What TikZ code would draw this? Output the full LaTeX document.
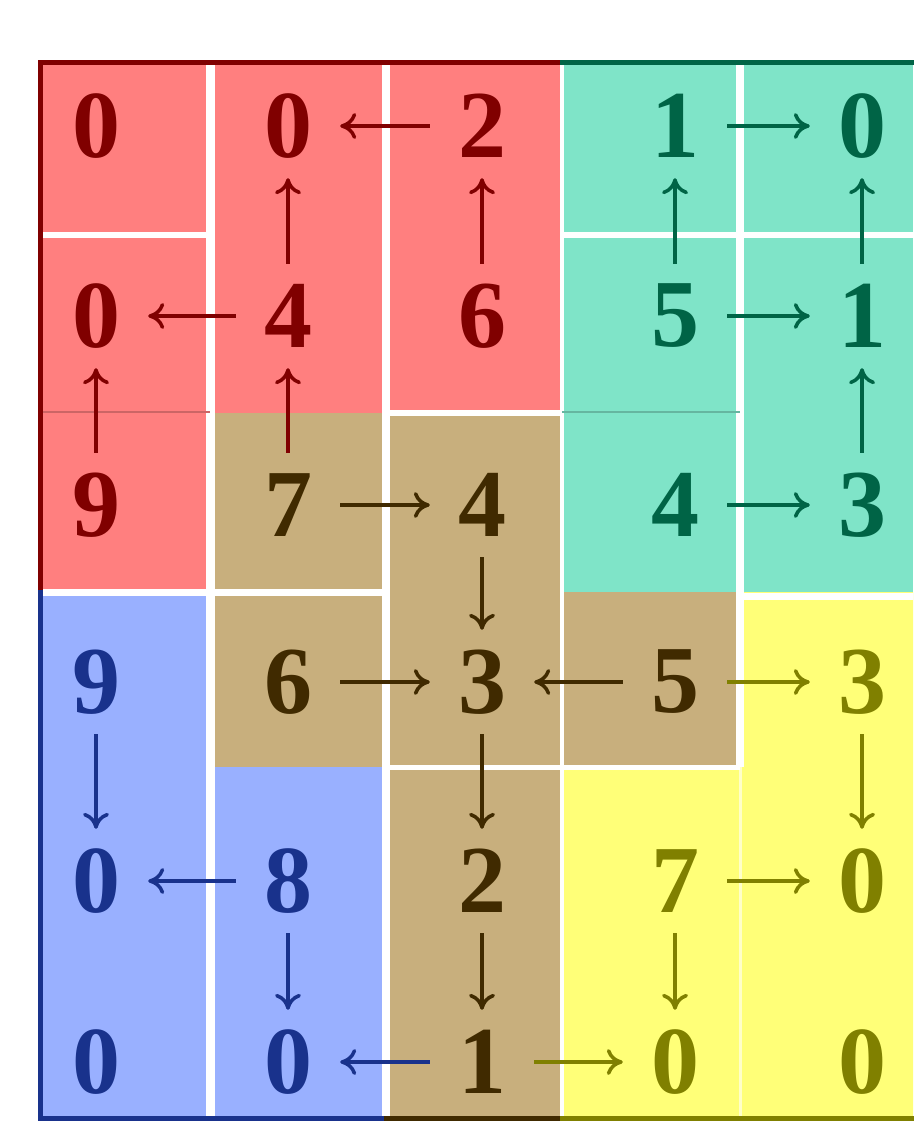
\documentclass[tikz,border=0pt]{standalone}
\usepackage{fontspec}
\setmainfont{Liberation Serif}
\usepackage{xcolor}
\usepackage{tikz}
\usetikzlibrary{arrows.meta}

\definecolor{redfill}{RGB}{255,127,127}
\definecolor{redtext}{RGB}{128,0,0}
\definecolor{tealfill}{RGB}{127,228,200}
\definecolor{tealtext}{RGB}{0,100,70}
\definecolor{tanfill}{RGB}{200,175,125}
\definecolor{tantext}{RGB}{64,42,0}
\definecolor{bluefill}{RGB}{153,176,255}
\definecolor{bluetext}{RGB}{25,50,140}
\definecolor{yellowfill}{RGB}{255,255,120}
\definecolor{olivetext}{RGB}{128,128,0}

\begin{document}
\begin{tikzpicture}[
  x=1pt, y=-1pt,
  num/.style={inner sep=0pt, minimum size=104pt,
             font=\fontsize{96}{100}\selectfont\bfseries},
  rednum/.style={num, text=redtext},
  tealnum/.style={num, text=tealtext},
  tannum/.style={num, text=tantext},
  bluenum/.style={num, text=bluetext},
  olivenum/.style={num, text=olivetext},
  gap/.style={draw=white, line width=8pt},
  border/.style={line width=5pt, line cap=rect},
  arrow/.style={-{To[length=16pt, width=26pt]}, line width=3.5pt}
]

\useasboundingbox[fill=white] (0,0) rectangle (913,1131);

% regions
\fill[redfill] (40,63) -- (562,63) -- (562,413) -- (210,413) -- (210,592) -- (40,592) -- cycle;
\fill[tealfill] (562,63) rectangle (913,592);
\fill[tanfill] (210,413) -- (562,413) -- (562,592) -- (740,592) -- (740,767)
  -- (562,767) -- (562,1118) -- (386,1118) -- (386,767) -- (210,767) -- cycle;
\fill[bluefill] (40,592) -- (210,592) -- (210,767) -- (386,767) -- (386,1118) -- (40,1118) -- cycle;
\fill[yellowfill] (740,592) -- (913,592) -- (913,1118) -- (562,1118) -- (562,767) -- (740,767) -- cycle;

% white gaps between cells
\draw[gap, line width=9pt] (210,63) -- (210,1118);
\draw[gap] (386,63) -- (386,1118);
\draw[gap, line width=4pt] (562,63) -- (562,1118);
\draw[gap] (740,63) -- (740,767);
\draw[white!60!yellowfill, line width=3pt] (740,767) -- (740,1118);
\draw[gap, line width=6pt] (40,235) -- (210,235);
\draw[gap, line width=6pt] (562,235) -- (913,235);
\draw[gap, line width=6pt] (386,413) -- (562,413);
\draw[gap, line width=7pt] (40,592) -- (386,592);
\draw[gap, line width=7pt] (740,596) -- (913,596);
\draw[gap, line width=5pt] (386,767) -- (740,767);
\draw[redfill!80!black, line width=2pt] (40,412) -- (210,412);
\draw[tealfill!80!black, line width=2pt] (562,412) -- (740,412);

% outer border
\draw[border, redtext] (40,592) -- (40,63) -- (562,63);
\draw[border, tealtext] (562,63) -- (913,63);
\draw[border, bluetext] (40,592) -- (40,1118) -- (386,1118);
\draw[border, tantext] (386,1118) -- (562,1118);
\draw[border, olivetext] (562,1118) -- (913,1118);

% heights
\node[rednum] (n11) at (96,126) {0};
\node[rednum] (n12) at (288,126) {0};
\node[rednum] (n13) at (482,126) {2};
\node[tealnum] (n14) at (675,126) {1};
\node[tealnum] (n15) at (862,126) {0};
\node[rednum] (n21) at (96,316) {0};
\node[rednum] (n22) at (288,316) {4};
\node[rednum] (n23) at (482,316) {6};
\node[tealnum] (n24) at (675,316) {5};
\node[tealnum] (n25) at (862,316) {1};
\node[rednum] (n31) at (96,505) {9};
\node[tannum] (n32) at (288,505) {7};
\node[tannum] (n33) at (482,505) {4};
\node[tealnum] (n34) at (675,505) {4};
\node[tealnum] (n35) at (862,505) {3};
\node[bluenum] (n41) at (96,682) {9};
\node[tannum] (n42) at (288,682) {6};
\node[tannum] (n43) at (482,682) {3};
\node[tannum] (n44) at (675,682) {5};
\node[olivenum] (n45) at (862,682) {3};
\node[bluenum] (n51) at (96,881) {0};
\node[bluenum] (n52) at (288,881) {8};
\node[tannum] (n53) at (482,881) {2};
\node[olivenum] (n54) at (675,881) {7};
\node[olivenum] (n55) at (862,881) {0};
\node[bluenum] (n61) at (96,1062) {0};
\node[bluenum] (n62) at (288,1062) {0};
\node[tannum] (n63) at (482,1062) {1};
\node[olivenum] (n64) at (675,1062) {0};
\node[olivenum] (n65) at (862,1062) {0};

% flow arrows
\draw[arrow, redtext] (n13) -- (n12);
\draw[arrow, redtext] (n22) -- (n12);
\draw[arrow, redtext] (n23) -- (n13);
\draw[arrow, redtext] (n22) -- (n21);
\draw[arrow, redtext] (n31) -- (n21);
\draw[arrow, redtext] (n32) -- (n22);
\draw[arrow, tealtext] (n14) -- (n15);
\draw[arrow, tealtext] (n24) -- (n14);
\draw[arrow, tealtext] (n25) -- (n15);
\draw[arrow, tealtext] (n24) -- (n25);
\draw[arrow, tealtext] (n34) -- (n35);
\draw[arrow, tealtext] (n35) -- (n25);
\draw[arrow, tantext] (n32) -- (n33);
\draw[arrow, tantext] (n33) -- (n43);
\draw[arrow, tantext] (n42) -- (n43);
\draw[arrow, tantext] (n44) -- (n43);
\draw[arrow, tantext] (n43) -- (n53);
\draw[arrow, tantext] (n53) -- (n63);
\draw[arrow, olivetext] (n44) -- (n45);
\draw[arrow, olivetext] (n45) -- (n55);
\draw[arrow, olivetext] (n54) -- (n55);
\draw[arrow, olivetext] (n54) -- (n64);
\draw[arrow, olivetext] (n63) -- (n64);
\draw[arrow, bluetext] (n41) -- (n51);
\draw[arrow, bluetext] (n52) -- (n51);
\draw[arrow, bluetext] (n52) -- (n62);
\draw[arrow, bluetext] (n63) -- (n62);

\end{tikzpicture}
\end{document}
